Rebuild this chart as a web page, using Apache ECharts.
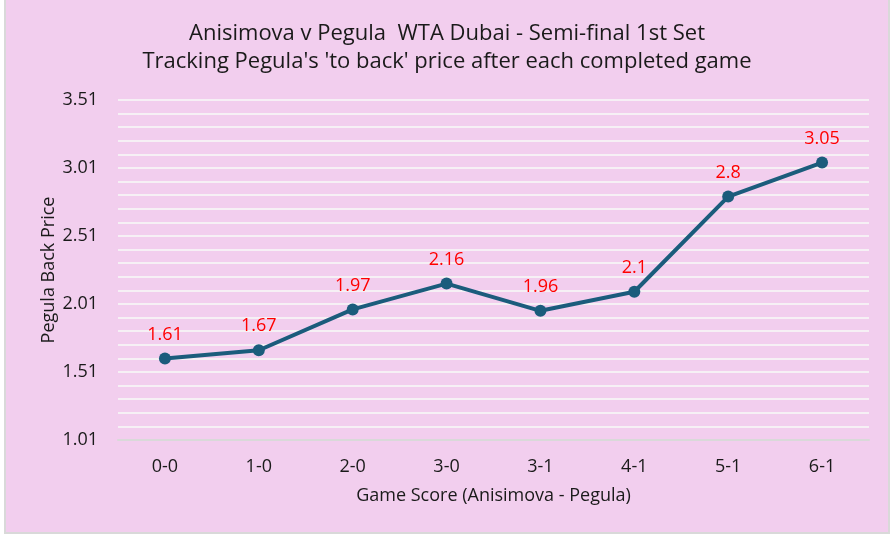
<!DOCTYPE html>
<html>
<head>
<meta charset="utf-8">
<script src="https://cdn.jsdelivr.net/npm/echarts@6/dist/echarts.min.js"></script>
<style>
  html, body { margin: 0; padding: 0; background: #ffffff; }
  #frame { position: absolute; left: 4px; top: 0; width: 886px; height: 534px; box-sizing: border-box;
           background: #F2CEEE; border-left: 2px solid #D9D9D9; border-right: 2px solid #D9D9D9; border-bottom: 2px solid #D9D9D9; }
  #chart { position: absolute; left: 0; top: 0; width: 894px; height: 536px; }
</style>
</head>
<body>
<div id="frame"></div>
<div id="chart"></div>
<script>
const titleLines = ["Anisimova v Pegula  WTA Dubai - Semi-final 1st Set", "Tracking Pegula's 'to back' price after each completed game"];
const categories = ["0-0", "1-0", "2-0", "3-0", "3-1", "4-1", "5-1", "6-1"];
const backPrice = [1.61, 1.67, 1.97, 2.16, 1.96, 2.1, 2.8, 3.05];
const yMin = 1.01, yMax = 3.51, yLabelStep = 0.5, yGridStep = 0.1;
const xAxisTitle = "Game Score (Anisimova - Pegula)";
const yAxisTitle = "Pegula Back Price";

const FONT = "Open Sans";
const chart = echarts.init(document.getElementById('chart'), null, { renderer: 'canvas' });
chart.setOption({
  backgroundColor: 'transparent',
  textStyle: { fontFamily: FONT },
  title: {
    text: titleLines.join('\n'),
    left: 'center', top: 15,
    textStyle: { fontFamily: FONT, fontSize: 22, fontWeight: 'normal', color: '#1a1a1a', lineHeight: 28 }
  },
  grid: { left: 118, right: 25, top: 100, bottom: 96, containLabel: false },
  xAxis: {
    type: 'category', data: categories, boundaryGap: true,
    axisLine: { show: true, lineStyle: { color: '#D9D9D9', width: 2 } },
    axisTick: { show: false },
    axisLabel: { color: '#1a1a1a', fontSize: 18, margin: 18, fontFamily: FONT },
    name: xAxisTitle, nameLocation: 'middle', nameGap: 47, nameMoveOverlap: false,
    nameTextStyle: { color: '#1a1a1a', fontSize: 18, fontFamily: FONT }
  },
  yAxis: [
    {
      // visible grid/label axis, shifted by the same 0.01 offset so lines fall on 1.01, 1.11, ...
      type: 'value', min: yMin - 0.01, max: yMax - 0.01, interval: yGridStep,
      axisLine: { show: false }, axisTick: { show: false },
      splitLine: { show: true, lineStyle: { color: '#F6F0F5', width: 2 } },
      axisLabel: {
        color: '#1a1a1a', fontSize: 18, margin: 20, fontFamily: FONT,
        formatter: function (v) {
          const k = Math.round((v - (yMin - 0.01)) / yGridStep);
          const per = Math.round(yLabelStep / yGridStep);
          return k % per === 0 ? (v + 0.01).toFixed(2) : '';
        }
      },
      name: yAxisTitle, nameLocation: 'middle', nameGap: 60, nameRotate: 90, nameMoveOverlap: false,
      nameTextStyle: { color: '#1a1a1a', fontSize: 18, fontFamily: FONT }
    },
    {
      type: 'value', min: yMin, max: yMax, show: false,
      splitLine: { show: false }
    }
  ],
  series: [{
    type: 'line', yAxisIndex: 1, data: backPrice,
    symbol: 'circle', symbolSize: 12,
    lineStyle: { color: '#1B5C7C', width: 4 },
    itemStyle: { color: '#1B5C7C' },
    label: { show: true, position: 'top', distance: 9, color: '#FF0000', fontSize: 18, fontFamily: FONT },
    animation: false
  }],
  animation: false
});
</script>
</body>
</html>
